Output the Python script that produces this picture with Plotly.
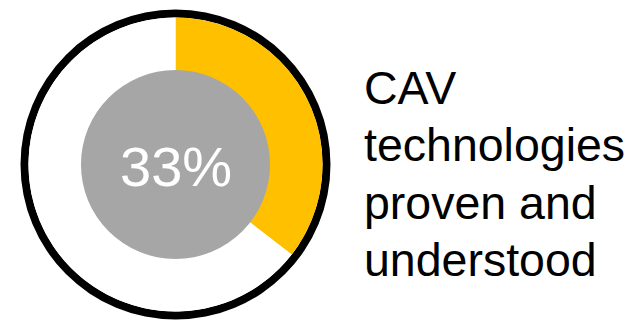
import plotly.graph_objects as go

# Data
labels = ["CAV technologies proven and understood", "Other"]
values = [35.5, 64.5]
center_label = "33%"
caption_lines = ["CAV", "technologies", "proven and", "understood"]

# the page body has an 8px margin, so figure coords = window coords - 8
OFF = 8
W, H = 641, 324
cx, cy = 175.5 - OFF, 164.5 - OFF  # px from figure top-left
r_outer, r_ring, r_inner = 155.0, 147.0, 94.5


def dom(r):
    yb = H - cy
    return dict(x=[(cx - r) / W, (cx + r) / W], y=[(yb - r) / H, (yb + r) / H])


fig = go.Figure()
# black outer ring
fig.add_trace(go.Pie(values=[1], labels=["ring"], domain=dom(r_outer), hole=r_ring / r_outer,
                     marker=dict(colors=["#000000"], line=dict(width=0)), textinfo="none",
                     hoverinfo="skip", sort=False, showlegend=False))
# yellow / white slices
fig.add_trace(go.Pie(values=values, labels=labels, domain=dom(r_ring), hole=0,
                     marker=dict(colors=["#FFC000", "#FFFFFF"], line=dict(width=0)),
                     textinfo="none", sort=False, direction="clockwise", rotation=0,
                     showlegend=False))
# grey centre
fig.add_trace(go.Pie(values=[1], labels=["centre"], domain=dom(r_inner), hole=0,
                     marker=dict(colors=["#A6A6A6"], line=dict(width=0)), textinfo="none",
                     hoverinfo="skip", sort=False, showlegend=False))

fig.add_annotation(x=cx / W, y=(H - cy - 2) / H, xref="paper", yref="paper",
                   text=center_label, showarrow=False, xanchor="center", yanchor="middle",
                   font=dict(family="Liberation Sans, Arial", size=56, color="#FFFFFF"))

FS = 46.5
first_base, step = 104.0, 57.5
for i, line in enumerate(caption_lines):
    base = first_base + i * step - OFF
    mid = base - 0.35 * FS
    fig.add_annotation(x=(363 - OFF) / W, y=(H - mid) / H, xref="paper", yref="paper",
                       text=line, showarrow=False, xanchor="left", yanchor="middle",
                       align="left", borderpad=0,
                       font=dict(family="Liberation Sans, Arial", size=FS, color="#000000"))

fig.update_layout(width=W, height=H, margin=dict(l=0, r=0, t=0, b=0),
                  paper_bgcolor="#FFFFFF", plot_bgcolor="#FFFFFF", showlegend=False)

fig.write_html("out.html")
